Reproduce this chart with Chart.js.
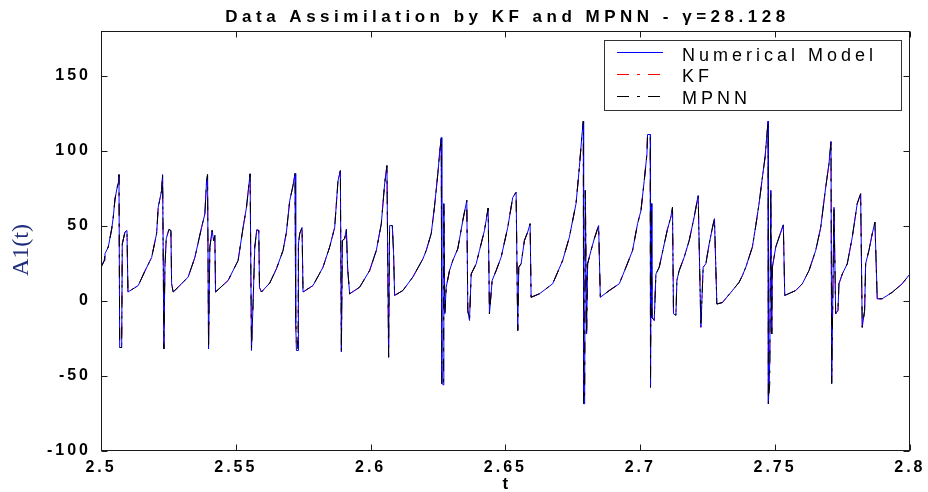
<!DOCTYPE html>
<html><head><meta charset="utf-8">
<script src="https://cdn.jsdelivr.net/npm/chart.js@4.4.1/dist/chart.umd.min.js"></script>
<style>html,body{margin:0;padding:0;background:#fff;overflow:hidden}#wrap{width:928px;height:492px}</style>
</head><body><div id="wrap"><canvas id="c" width="928" height="492"></canvas></div>
<script>
const chartTitle = 'Data Assimilation by KF and MPNN - \u03b3=28.128';
const xLabel = 't';
const yLabel = 'A1(t)';
const seriesNames = ['Numerical Model', 'KF', 'MPNN'];
const xTicks = [2.5, 2.55, 2.6, 2.65, 2.7, 2.75, 2.8];
const yTicks = [-100, -50, 0, 50, 100, 150];
const xRange = [2.5, 2.8];
const yRange = [-100, 180];

const t = [
2.50000,2.50122,2.50148,2.50270,2.50396,2.50456,2.50519,2.50581,2.50641,2.50667,
2.50693,2.50767,2.50789,2.50889,2.50963,2.51000,2.51381,2.51630,2.51878,2.52063,
2.52122,2.52248,2.52285,2.52333,2.52370,2.52419,2.52519,2.52593,2.52619,2.52678,
2.52989,2.53233,2.53481,2.53730,2.53852,2.53915,2.53952,2.53989,2.54037,2.54122,
2.54174,2.54222,2.54248,2.54715,2.55085,2.55270,2.55396,2.55456,2.55530,2.55581,
2.55641,2.55704,2.55778,2.55852,2.55878,2.55952,2.56259,2.56507,2.56752,2.56878,
2.57000,2.57122,2.57196,2.57222,2.57248,2.57307,2.57322,2.57370,2.57456,2.57493,
2.57863,2.58233,2.58481,2.58667,2.58789,2.58878,2.58915,2.58952,2.59037,2.59100,
2.59148,2.59222,2.59593,2.59963,2.60211,2.60396,2.60519,2.60604,2.60667,2.60704,
2.60804,2.60852,2.60889,2.61196,2.61567,2.61937,2.62063,2.62248,2.62370,2.62493,
2.62556,2.62619,2.62641,2.62704,2.62715,2.62752,2.62804,2.62926,2.63048,2.63233,
2.63419,2.63567,2.63604,2.63667,2.63730,2.63915,2.64037,2.64222,2.64359,2.64407,
2.64507,2.64656,2.64841,2.65085,2.65270,2.65396,2.65456,2.65493,2.65581,2.65704,
2.65826,2.65915,2.65952,2.66259,2.66752,2.67122,2.67370,2.67619,2.67741,2.67841,
2.67889,2.67900,2.67937,2.67963,2.68011,2.68048,2.68174,2.68296,2.68456,2.68519,
2.68852,2.69222,2.69470,2.69715,2.69900,2.70026,2.70148,2.70248,2.70270,2.70370,
2.70381,2.70407,2.70433,2.70519,2.70581,2.70704,2.70889,2.71011,2.71137,2.71196,
2.71233,2.71322,2.71359,2.71444,2.71630,2.71815,2.72000,2.72148,2.72248,2.72333,
2.72433,2.72556,2.72678,2.72752,2.72841,2.73048,2.73419,2.73667,2.73789,2.73915,
2.74159,2.74285,2.74407,2.74530,2.74630,2.74741,2.74752,2.74804,2.74841,2.74878,
2.74900,2.75026,2.75148,2.75307,2.75359,2.75767,2.76011,2.76259,2.76507,2.76693,
2.76878,2.77000,2.77074,2.77100,2.77185,2.77248,2.77333,2.77370,2.77493,2.77678,
2.77863,2.78048,2.78174,2.78233,2.78322,2.78359,2.78481,2.78604,2.78704,2.78789,
2.78974,2.79344,2.79715,2.80000
];

const model = [
22.5,27,31.5,36,48,56,68,74,79,84.3,
-31,-31,38,46,47,6,10.3,20,29,45,
62.5,73.7,84.3,-32,22.5,41.5,47.7,47,11.5,6,
11.5,16,29,49,58,80,84.3,-32,36,47,
40.3,43.7,6,13.7,27,49,62.5,72.5,84.8,-33,
-1,36,47.5,47,9,6,12,21.5,33.7,46,
67,77,85,-15,-33,-33,38,45,49,6,
10.3,22.5,36,49,80,87,-34,40.3,41.5,48,
21.5,4.8,9.2,20.3,33.7,51.5,78,90.3,-37.5,50.3,
50.3,31.5,3.7,7,16,28,33.7,45,63,85,
98,109,-55,-56,65,-8.5,9.2,20.3,27,34.8,
53.7,67,-6.3,-13,18,24.8,33.7,47,62,-8.5,
13.7,20.3,29.2,49,69,72.5,-19.7,22.5,24.8,40.3,
46,51.5,2.5,4.8,11.5,27,42.5,65,89,111.5,
120,-68.5,-68.5,73.7,-22,24.8,33.7,41.5,50.3,2.5,
7,11.5,22.5,33.7,51.5,60.3,80.3,98,111,111,
-57.5,65,-11,-13,18,22.5,38,48,56,62.5,
-8.5,-9.5,13.7,20.3,29.2,40.3,56,70.3,-17.5,22.5,
24.8,38,49,54.8,-2,-1,7,12.5,17,22.5,
36,50.3,65,82.5,96,120,-68.5,-40,73.7,-22,
22.5,36,42.5,50.8,3.7,7,11.5,20.3,33.7,49,
75.8,91.5,106.5,-55,62.5,-8.5,-6.3,11.5,18,24.8,
42.5,65,71.5,-17.5,-6.3,24.8,33.7,44.8,52.5,1.5,
1.5,5.8,11.5,18
];

const kf = [
22.5,27,31.5,36,48,56,68,74,79,84,
-30,-30,38,46,47,6,10.3,20,29,45,
62.5,73.7,84,-31,22.5,41.5,47.7,47,11.5,6,
11.5,16,29,49,58,80,84,-31,36,47,
40.3,43.7,6,13.7,27,49,62.5,72.5,84.5,-32,
-1,36,47.5,47,9,6,12,21.5,33.7,46,
67,77,84.5,-15,-32,-32,38,45,49,6,
10.3,22.5,36,49,80,86.5,-33,40.3,41.5,48,
21.5,4.8,9.2,20.3,33.7,51.5,78,90,-37,50.3,
50.3,31.5,3.7,7,16,28,33.7,45,63,85,
98,108.5,-54,-55,65,-8.5,9.2,20.3,27,34.8,
53.7,67,-6.3,-13,18,24.8,33.7,47,62,-8.5,
13.7,20.3,29.2,49,69,72.5,-19.5,22.5,24.8,40.3,
46,51.5,2.5,4.8,11.5,27,42.5,65,89,111,
119.5,-68,-68,73.7,-22,24.8,33.7,41.5,50.3,2.5,
7,11.5,22.5,33.7,51.5,60.3,80.3,98,110.5,110.5,
-57,65,-11,-13,18,22.5,38,48,56,62.5,
-8.5,-9.5,13.7,20.3,29.2,40.3,56,70,-17.5,22.5,
24.8,38,49,54.8,-2,-1,7,12.5,17,22.5,
36,50.3,65,82.5,96,119.5,-68,-41,73.7,-22,
22.5,36,42.5,50.8,3.7,7,11.5,20.3,33.7,49,
75.8,91.5,106,-54.5,62.5,-8.5,-6.3,11.5,18,24.8,
42.5,65,71.5,-17.5,-6.3,24.8,33.7,44.8,52.5,1.5,
1.5,5.8,11.5,18
];

const mpnn = [
22.5,27,31.5,36,48,56,68,74,79,84.3,
-31,-31,38,46,47,6,10.3,20,29,45,
62.5,73.7,84.3,-32,22.5,41.5,47.7,47,11.5,6,
11.5,16,29,49,58,80,84.3,-32,36,47,
40.3,43.7,6,13.7,27,49,62.5,72.5,84.8,-32,
-1,36,47.5,47,9,6,12,21.5,33.7,46,
67,77,85,-15,-20,-33,38,45,49,6,
10.3,22.5,36,49,80,87,-34,40.3,41.5,48,
21.5,4.8,9.2,20.3,33.7,51.5,78,90.3,-37.5,50.3,
50.3,31.5,3.7,7,16,28,33.7,45,63,85,
98,109,-56,-57,65,-8.5,9.2,20.3,27,34.8,
53.7,67,-6.3,-13,18,24.8,33.7,47,62,-8.5,
13.7,20.3,29.2,49,69,72.5,-19.7,22.5,24.8,40.3,
46,51.5,2.5,4.8,11.5,27,42.5,65,89,111.5,
120,-68.5,-60,73.7,-22,24.8,33.7,41.5,50.3,2.5,
7,11.5,22.5,33.7,51.5,60.3,80.3,98,111,111,
-57.5,65,-11,-13,18,22.5,38,48,56,62.5,
-8.5,-9.5,13.7,20.3,29.2,40.3,56,70.3,-17.5,22.5,
24.8,38,49,54.8,-2,-1,7,12.5,17,22.5,
36,50.3,65,82.5,96,120,-68.5,-55,73.7,-22,
22.5,36,42.5,50.8,3.7,7,11.5,20.3,33.7,49,
75.8,91.5,106.5,-55,62.5,-8.5,-6.3,11.5,18,24.8,
42.5,65,71.5,-17.5,-6.3,24.8,33.7,44.8,52.5,1.5,
1.5,5.8,11.5,18
];

const pts = arr => t.map((x, i) => ({ x: x, y: arr[i] }));
const SANS = '"Liberation Sans", Arial, Helvetica, sans-serif';

const decor = {
  id: 'decor',
  beforeDraw(c) { c.ctx.letterSpacing = '3px'; },
  afterDraw(c) {
    const ctx = c.ctx, a = c.chartArea, xs = c.scales.x, ys = c.scales.y;
    ctx.save();
    ctx.letterSpacing = '0px';
    // frame
    ctx.strokeStyle = '#1a1a1a';
    ctx.lineWidth = 1;
    ctx.setLineDash([]);
    const L = Math.round(a.left) + 0.5, R = Math.round(a.right) - 0.5;
    const T = Math.round(a.top) + 0.5, B = Math.round(a.bottom) - 0.5;
    ctx.strokeRect(L, T, R - L, B - T);
    // inward ticks on all four sides
    ctx.beginPath();
    xTicks.forEach(v => {
      const px = Math.round(xs.getPixelForValue(v)) + 0.5;
      ctx.moveTo(px, B); ctx.lineTo(px, B - 6);
      ctx.moveTo(px, T); ctx.lineTo(px, T + 6);
    });
    yTicks.forEach(v => {
      const py = Math.round(ys.getPixelForValue(v)) + 0.5;
      ctx.moveTo(L, py); ctx.lineTo(L + 6, py);
      ctx.moveTo(R, py); ctx.lineTo(R - 6, py);
    });
    ctx.stroke();

    // title
    ctx.fillStyle = '#000';
    ctx.font = 'bold 17px ' + SANS;
    ctx.letterSpacing = '4.5px';
    ctx.textAlign = 'center';
    ctx.textBaseline = 'alphabetic';
    ctx.fillText(chartTitle, (a.left + a.right) / 2 + 2, 22);

    // x label
    ctx.letterSpacing = '0px';
    ctx.font = 'bold 17px ' + SANS;
    ctx.textBaseline = 'middle';
    ctx.fillText(xLabel, (a.left + a.right) / 2, 484);

    // y label
    ctx.save();
    ctx.translate(22, 250);
    ctx.rotate(-Math.PI / 2);
    ctx.font = '24px "Liberation Serif", "Times New Roman", serif';
    ctx.fillStyle = '#1f2d7a';
    ctx.textAlign = 'center';
    ctx.textBaseline = 'middle';
    ctx.fillText(yLabel, 0, 0);
    ctx.restore();

    // legend box (inside, upper right)
    const bx = 604.5, by = 40.5, bw = 297, bh = 70;
    ctx.fillStyle = '#fff';
    ctx.fillRect(bx, by, bw, bh);
    ctx.strokeStyle = '#333';
    ctx.lineWidth = 1;
    ctx.strokeRect(bx, by, bw, bh);
    const lineY = [52.5, 74.5, 96.5];
    const textY = [60.5, 82, 103.5];
    ctx.font = '18px ' + SANS;
    ctx.letterSpacing = '4px';
    ctx.textAlign = 'left';
    ctx.textBaseline = 'alphabetic';
    c.data.datasets.forEach((ds, i) => {
      ctx.beginPath();
      ctx.strokeStyle = ds.borderColor;
      ctx.lineWidth = 1;
      ctx.setLineDash(ds.borderDash || []);
      ctx.moveTo(617, lineY[i]); ctx.lineTo(663, lineY[i]);
      ctx.stroke();
      ctx.setLineDash([]);
      ctx.fillStyle = '#000';
      ctx.fillText(ds.label, 682, textY[i]);
    });
    ctx.restore();
  }
};

new Chart(document.getElementById('c'), {
  type: 'line',
  data: {
    datasets: [
      { label: seriesNames[0], data: pts(model), borderColor: '#0000ff', borderWidth: 1, pointRadius: 0, tension: 0, order: 2 },
      { label: seriesNames[1], data: pts(kf), borderColor: '#ff0000', borderWidth: 1, borderDash: [12, 8, 3, 8], pointRadius: 0, tension: 0, order: 3 },
      { label: seriesNames[2], data: pts(mpnn), borderColor: '#000000', borderWidth: 1, borderDash: [12, 8, 3, 8], pointRadius: 0, tension: 0, order: 1 }
    ]
  },
  options: {
    responsive: false,
    animation: false,
    devicePixelRatio: 1,
    layout: { padding: { top: 31, right: 17, left: 0, bottom: 0 } },
    plugins: { legend: { display: false }, title: { display: false }, tooltip: { enabled: false } },
    scales: {
      x: {
        type: 'linear', min: xRange[0], max: xRange[1],
        grid: { display: false, drawTicks: false }, border: { display: false },
        afterBuildTicks: s => { s.ticks = xTicks.map(v => ({ value: v })); },
        afterFit: s => { s.height = 41; },
        ticks: { padding: 7, color: '#000', autoSkip: false, maxRotation: 0,
          font: { family: SANS, size: 16, weight: 'bold' },
          callback: v => String(+Number(v).toFixed(2)) }
      },
      y: {
        type: 'linear', min: yRange[0], max: yRange[1],
        grid: { display: false, drawTicks: false }, border: { display: false },
        afterBuildTicks: s => { s.ticks = yTicks.map(v => ({ value: v })); },
        afterFit: s => { s.width = 101; },
        ticks: { padding: 10, color: '#000', autoSkip: false,
          font: { family: SANS, size: 16, weight: 'bold' },
          callback: v => String(v) }
      }
    }
  },
  plugins: [decor]
});
</script>
</body></html>
